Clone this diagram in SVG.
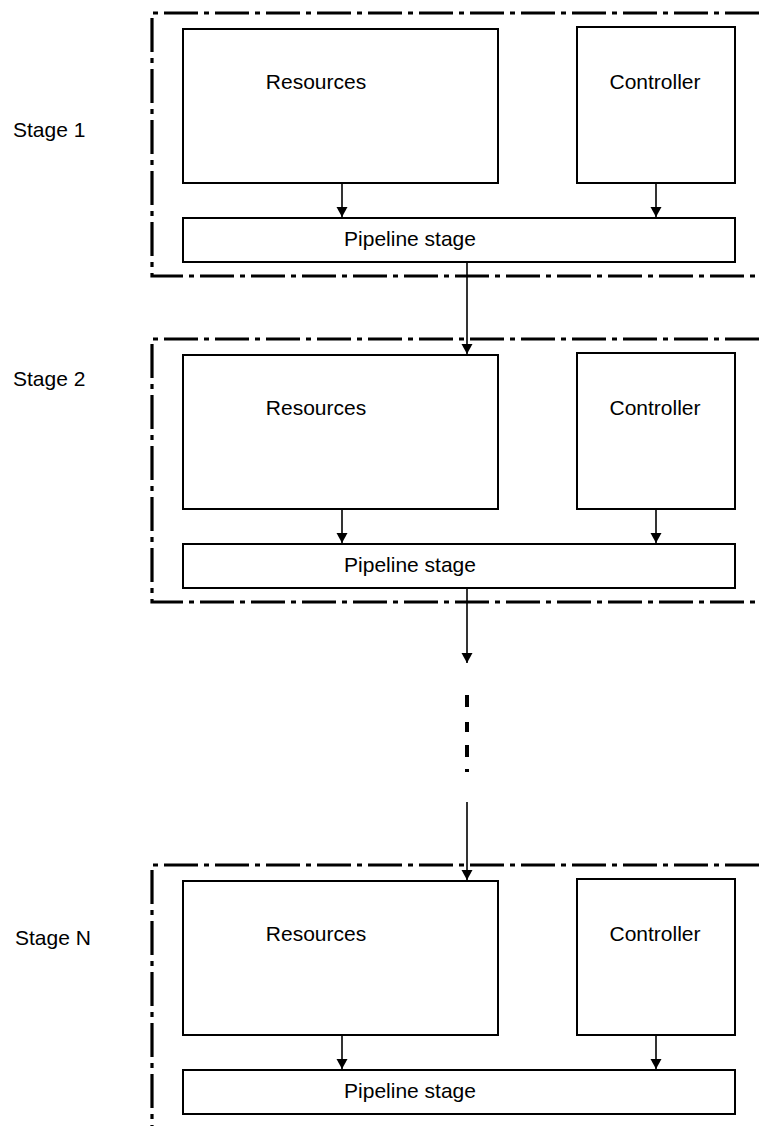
<svg xmlns="http://www.w3.org/2000/svg" width="759" height="1126" viewBox="0 0 759 1126">
<defs>
<marker id="ah" viewBox="0 0 10 14" refX="10" refY="7" markerWidth="11" markerHeight="14" markerUnits="userSpaceOnUse" orient="auto">
<path d="M0,1.5 L10,7 L0,12.5 Z" fill="#000"/>
</marker>
<style>
.box{fill:#fff;stroke:#000;stroke-width:2}
.frame{fill:none;stroke:#000;stroke-width:3.2;stroke-dasharray:34 6 5 6}
.lbl{font-family:"Liberation Sans",Arial,sans-serif;font-size:21px;fill:#000}
.mid{text-anchor:middle}
.conn{stroke:#000;stroke-width:1.6;fill:none}
.dots{stroke:#000;stroke-width:4;fill:none}
</style>
</defs>
<rect width="759" height="1126" fill="#fff"/>

<g id="stage1">
<path class="frame" d="M759,13 H152 V276 H759"/>
<text class="lbl" x="13" y="137">Stage 1</text>
<g id="res1"><rect class="box" x="183" y="29" width="315" height="154"/><text class="lbl mid" x="316" y="89">Resources</text></g>
<g id="ctl1"><rect class="box" x="577" y="27" width="158" height="156"/><text class="lbl mid" x="655" y="89">Controller</text></g>
<g id="pipe1"><rect class="box" x="183" y="218" width="552" height="44"/><text class="lbl mid" x="410" y="246">Pipeline stage</text></g>
</g>

<g id="stage2">
<path class="frame" d="M759,339 H152 V602 H759"/>
<text class="lbl" x="13" y="386">Stage 2</text>
<g id="res2"><rect class="box" x="183" y="355" width="315" height="154"/><text class="lbl mid" x="316" y="415">Resources</text></g>
<g id="ctl2"><rect class="box" x="577" y="353" width="158" height="156"/><text class="lbl mid" x="655" y="415">Controller</text></g>
<g id="pipe2"><rect class="box" x="183" y="544" width="552" height="44"/><text class="lbl mid" x="410" y="572">Pipeline stage</text></g>
</g>

<g id="stageN">
<path class="frame" d="M759,865 H152 V1126"/>
<text class="lbl" x="15" y="945">Stage N</text>
<g id="resN"><rect class="box" x="183" y="881" width="315" height="154"/><text class="lbl mid" x="316" y="941">Resources</text></g>
<g id="ctlN"><rect class="box" x="577" y="879" width="158" height="156"/><text class="lbl mid" x="655" y="941">Controller</text></g>
<g id="pipeN"><rect class="box" x="183" y="1070" width="552" height="44"/><text class="lbl mid" x="410" y="1098">Pipeline stage</text></g>
</g>

<g id="connectors">
<line class="conn" x1="342" y1="183" x2="342" y2="217" marker-end="url(#ah)"/>
<line class="conn" x1="656" y1="183" x2="656" y2="217" marker-end="url(#ah)"/>
<line class="conn" x1="467" y1="262" x2="467" y2="354" marker-end="url(#ah)"/>
<line class="conn" x1="342" y1="509" x2="342" y2="543" marker-end="url(#ah)"/>
<line class="conn" x1="656" y1="509" x2="656" y2="543" marker-end="url(#ah)"/>
<line class="conn" x1="467" y1="588" x2="467" y2="663" marker-end="url(#ah)"/>
<path class="dots" d="M467,695 V707 M467,722 V732 M467,745 V757 M467,769 V772"/>
<line class="conn" x1="467" y1="802" x2="467" y2="880" marker-end="url(#ah)"/>
<line class="conn" x1="342" y1="1035" x2="342" y2="1069" marker-end="url(#ah)"/>
<line class="conn" x1="656" y1="1035" x2="656" y2="1069" marker-end="url(#ah)"/>
</g>
</svg>
